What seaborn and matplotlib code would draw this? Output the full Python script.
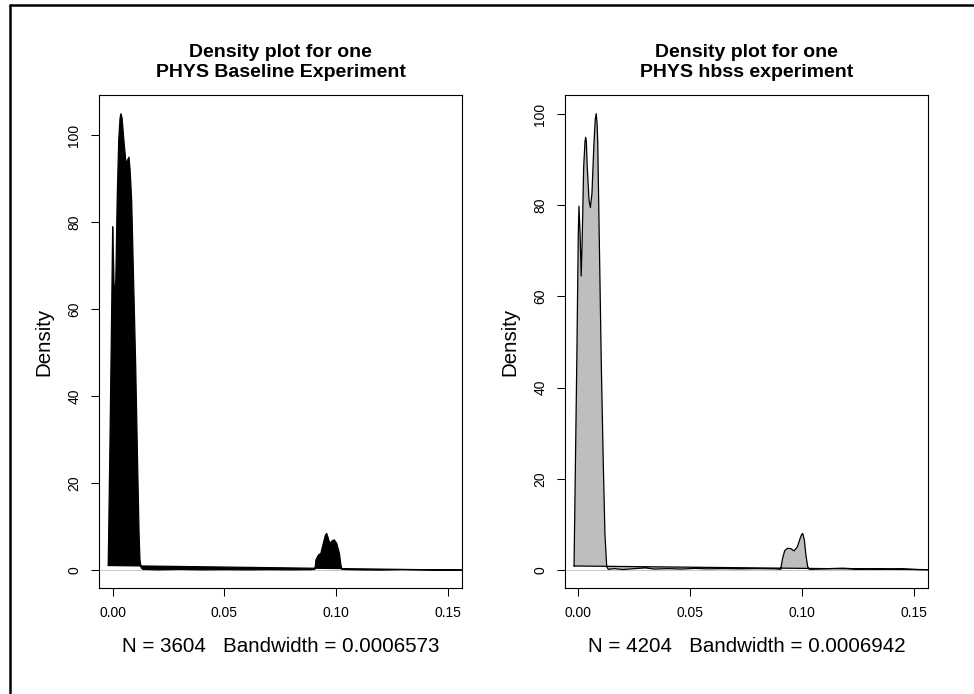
import matplotlib
matplotlib.use("Agg")
import matplotlib.pyplot as plt
import seaborn as sns
from matplotlib.lines import Line2D

# ---------------- data ----------------
base_x = [-0.0020, -0.0012, -0.0005, -0.0001, 0.0000, 0.0002, 0.0006, 0.0010,
          0.0014, 0.0020, 0.0027, 0.0033, 0.0037, 0.0042, 0.0050, 0.0058,
          0.0063, 0.0068, 0.0073, 0.0078, 0.0085, 0.0094, 0.0103, 0.0111,
          0.0118, 0.0122, 0.0127, 0.0135, 0.0150, 0.0200, 0.0300, 0.0400,
          0.0500, 0.0600, 0.0700, 0.0800, 0.0890, 0.0906, 0.0910, 0.0921,
          0.0932, 0.0943, 0.0952, 0.0958, 0.0964, 0.0967, 0.0973, 0.0983,
          0.0992, 0.1003, 0.1015, 0.1022, 0.1027, 0.1100, 0.1200, 0.1300,
          0.1400, 0.1500, 0.1600]
base_y = [1.1, 30.0, 58.0, 75.0, 79.0, 75.0, 66.0, 62.0,
          67.0, 85.0, 99.0, 104.0, 105.0, 104.0, 99.0, 94.5,
          93.5, 94.5, 95.0, 92.0, 85.0, 66.0, 47.0, 26.0,
          8.6, 2.5, 0.6, 0.2, 0.2, 0.1, 0.2, 0.1,
          0.15, 0.1, 0.15, 0.1, 0.15, 0.25, 2.4, 3.5,
          3.9, 6.2, 8.0, 8.5, 7.6, 7.0, 6.2, 6.8,
          7.0, 6.2, 3.9, 1.2, 0.2, 0.1, 0.05, 0.15,
          0.1, 0.05, 0.0]

hbss_x = [-0.0019, -0.0007, 0.0000, 0.0003, 0.0008, 0.0013, 0.0018, 0.0024,
          0.0030, 0.0033, 0.0036, 0.0040, 0.0048, 0.0054, 0.0061, 0.0070,
          0.0076, 0.0080, 0.0084, 0.0087, 0.0091, 0.0103, 0.0112, 0.0119,
          0.0127, 0.0134, 0.0160, 0.0200, 0.0250, 0.0300, 0.0340, 0.0400,
          0.0460, 0.0520, 0.0580, 0.0650, 0.0720, 0.0800, 0.0880, 0.0904,
          0.0913, 0.0922, 0.0934, 0.0949, 0.0964, 0.0979, 0.0991, 0.0998,
          0.1003, 0.1010, 0.1017, 0.1025, 0.1032, 0.1060, 0.1120, 0.1180,
          0.1240, 0.1300, 0.1380, 0.1450, 0.1520, 0.1600]
hbss_y = [0.88, 44.6, 73.8, 79.8, 73.8, 64.5, 73.8, 88.4,
          94.0, 94.9, 94.0, 88.4, 81.1, 79.5, 82.6, 93.6,
          99.0, 100.1, 98.0, 93.6, 81.1, 44.6, 22.7, 8.0,
          0.7, 0.15, 0.3, 0.1, 0.3, 0.45, 0.2, 0.3,
          0.2, 0.35, 0.25, 0.3, 0.25, 0.3, 0.25, 0.15,
          2.6, 4.2, 4.75, 4.7, 4.2, 5.1, 6.9, 7.8,
          8.0, 6.6, 3.3, 0.7, 0.15, 0.2, 0.3, 0.4,
          0.25, 0.3, 0.2, 0.25, 0.1, 0.05]

titles = [["Density plot for one", "PHYS Baseline Experiment"],
          ["Density plot for one", "PHYS hbss experiment"]]
xlabels = ["N = 3604   Bandwidth = 0.0006573",
           "N = 4204   Bandwidth = 0.0006942"]
ylabel = "Density"
x_ticks = [0.00, 0.05, 0.10, 0.15]
x_ticklabels = ["0.00", "0.05", "0.10", "0.15"]
y_ticks = [0, 20, 40, 60, 80, 100]
y_ticklabels = ["0", "20", "40", "60", "80", "100"]
fills = ["black", "#BEBEBE"]
xlims = [(-0.00613, 0.1564), (-0.00594, 0.15625)]
ylims = [(-4.07, 109.3), (-3.95, 104.2)]

# ---------------- styling ----------------
sns.set_style("white")
plt.rcParams["font.family"] = ["Liberation Sans", "DejaVu Sans"]
plt.rcParams["text.color"] = "black"
plt.rcParams["axes.labelcolor"] = "black"
plt.rcParams["xtick.color"] = "black"
plt.rcParams["ytick.color"] = "black"

W, H = 974, 694
fig = plt.figure(figsize=(W / 100, H / 100), dpi=100)

panels = [(99, 95, 462, 588), (565, 95, 928, 588)]
series = [(base_x, base_y), (hbss_x, hbss_y)]

for i, (l, t, r, b) in enumerate(panels):
    ax = fig.add_axes([l / W, 1 - b / H, (r - l) / W, (b - t) / H])
    xs, ys = series[i]
    ax.fill(xs, ys, facecolor=fills[i], edgecolor="none", zorder=2)
    sns.lineplot(x=list(xs) + [xs[0]], y=list(ys) + [ys[0]], sort=False,
                 estimator=None, color="black", lw=0.9, ax=ax, zorder=3)
    ax.axhline(0, color="#BEBEBE", lw=0.6, zorder=1)
    ax.set_xlim(*xlims[i])
    ax.set_ylim(*ylims[i])
    ax.set_xticks(x_ticks)
    ax.set_xticklabels(x_ticklabels)
    ax.set_yticks(y_ticks)
    ax.set_yticklabels(y_ticklabels, rotation=90, va="center")
    ax.tick_params(axis="both", direction="out", length=5.8, width=0.75,
                   color="black", labelsize=10, labelcolor="black",
                   bottom=True, left=True)
    ax.tick_params(axis="x", pad=7)
    ax.tick_params(axis="y", pad=7)
    for sp in ax.spines.values():
        sp.set_visible(True)
        sp.set_color("black")
        sp.set_linewidth(0.8)
    ax.set_xlabel(xlabels[i], fontsize=14.8, color="black")
    ax.xaxis.label.set_va("baseline")
    ax.xaxis.set_label_coords(0.5, (b - 651.7) / (b - t))
    ax.set_ylabel(ylabel, fontsize=14.8, color="black")
    ax.yaxis.label.set_va("center")
    ax.yaxis.set_label_coords((44 - 99) / (r - l), 0.5)
    cx = (l + r) / 2 / W
    fig.text(cx, 1 - 56.7 / H, titles[i][0], ha="center", va="baseline",
             fontsize=14, fontweight="bold", color="black")
    fig.text(cx, 1 - 76.7 / H, titles[i][1], ha="center", va="baseline",
             fontsize=14, fontweight="bold", color="black")

# outer frame (left and top edges visible in reference)
fig.add_artist(Line2D([9.5 / W, 9.5 / W], [0, 1 - 5.3 / H], color="black",
                      lw=1.8, transform=fig.transFigure))
fig.add_artist(Line2D([9.5 / W, 1], [1 - 5.3 / H, 1 - 5.3 / H], color="black",
                      lw=1.8, transform=fig.transFigure))

fig.savefig("out.png", dpi=100)
